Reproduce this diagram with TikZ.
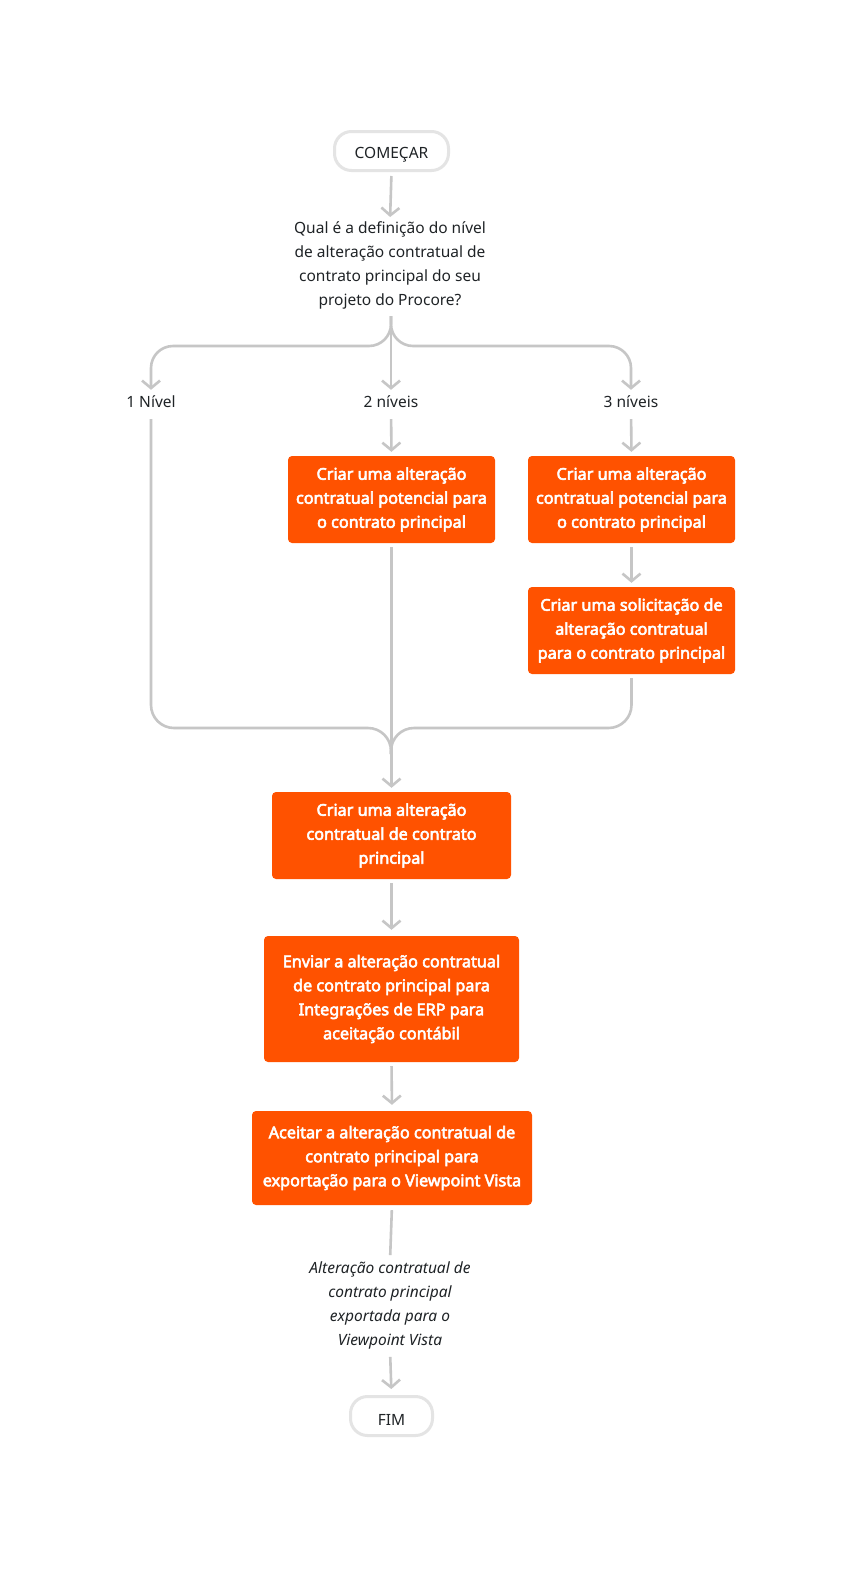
\documentclass[tikz,border=0pt]{standalone}
\usepackage{fontspec}
\setmainfont{Noto Sans}[AutoFakeBold=3.4]
\usetikzlibrary{arrows.meta,calc}
\definecolor{procore}{HTML}{FF5200}
\definecolor{linegray}{HTML}{C6C6C6}
\definecolor{pillgray}{HTML}{E4E4E4}
\definecolor{ink}{HTML}{1F2326}
\tikzset{
  base/.style={font=\fontsize{15.5}{24}\selectfont, text=ink, inner sep=0pt, align=center},
  lift/.style={execute at begin node={\rule{0pt}{18pt}}},
  pill/.style={base, lift, draw=pillgray, line width=3pt, fill=white, rounded corners=17pt},
  proc/.style={base, fill=procore, text=white, font=\fontsize{16.2}{24}\selectfont\bfseries, rounded corners=4pt,
    execute at begin node={\rule{0pt}{26pt}}},
  lbl/.style={base},
  conn/.style={draw=linegray, line width=2.6pt},
  arr/.style={conn, -{Straight Barb[length=7.5pt,width=18pt,line width=2.6pt]}},
}
\begin{document}
\begin{tikzpicture}[x=1pt,y=-1pt]
\fill[white] (0,0) rectangle (864,1569);
\useasboundingbox (0,0) rectangle (864,1569);

\node[pill, minimum width=114pt, minimum height=39pt] (start) at (391.5,151) {COMEÇAR};
\node[lbl] (q) at (390,265) {Qual é a definição do nível\\de alteração contratual de\\contrato principal do seu\\projeto do Procore?};

\node[lbl] (l1) at (151,402) {1 Nível};
\node[lbl] (l2) at (391,402) {2 níveis};
\node[lbl] (l3) at (631,402) {3 níveis};

\node[proc, minimum width=207pt, minimum height=87pt] (b2) at (391.5,499.5) {Criar uma alteração\\contratual potencial para\\o contrato principal};
\node[proc, minimum width=207pt, minimum height=87pt] (b3a) at (631.5,499.5) {Criar uma alteração\\contratual potencial para\\o contrato principal};
\node[proc, minimum width=207pt, minimum height=87pt] (b3b) at (631.5,630.5) {Criar uma solicitação de\\alteração contratual\\para o contrato principal};
\node[proc, minimum width=239pt, minimum height=87pt] (bc) at (391.5,835.5) {Criar uma alteração\\contratual de contrato\\principal};
\node[proc, minimum width=255pt, minimum height=126pt] (bd) at (391.5,999) {Enviar a alteração contratual\\de contrato principal para\\Integrações de ERP para\\aceitação contábil};
\node[proc, minimum width=280pt, minimum height=94pt] (be) at (392,1158) {Aceitar a alteração contratual de\\contrato principal para\\exportação para o Viewpoint Vista};

\node[lbl, font=\fontsize{15.5}{24}\selectfont\itshape] (ex) at (390,1305) {Alteração contratual de\\contrato principal\\exportada para o\\Viewpoint Vista};

\node[pill, minimum width=82pt, minimum height=39pt] (fim) at (391.5,1416) {FIM};

\coordinate (split) at (391,316);
\coordinate (merge) at (391,728);

% connectors
\draw[arr, shorten <=4pt, shorten >=4pt] (start.south) -- (q.north);
\draw[arr, rounded corners=22pt, shorten >=6pt] (split) -- ++(0,30) -| (l1.north);
\draw[arr, shorten >=6pt] (split) -- (l2.north);
\draw[arr, rounded corners=22pt, shorten >=6pt] (split) -- ++(0,30) -| (l3.north);

\draw[arr, shorten <=11pt, shorten >=4pt] (l2.south) -- (b2.north);
\draw[arr, shorten <=11pt, shorten >=4pt] (l3.south) -- (b3a.north);
\draw[arr, shorten <=4pt, shorten >=4pt] (b3a.south) -- (b3b.north);

\draw[conn, rounded corners=23pt, shorten <=11pt] (l1.south) -- (l1.south |- merge) -- (merge) -- ++(0,26);
\draw[conn, rounded corners=23pt, shorten <=4pt] (b3b.south) -- (b3b.south |- merge) -- (merge) -- ++(0,26);
\draw[arr, shorten <=4pt, shorten >=4pt] (b2.south) -- (bc.north);

\draw[arr, shorten <=4pt, shorten >=6pt] (bc.south) -- (bd.north);
\draw[arr, shorten <=4pt, shorten >=6pt] (bd.south) -- (be.north);
\draw[conn, shorten <=5pt, shorten >=6pt] (be.south) -- (ex.north);
\draw[arr, shorten <=8pt, shorten >=6pt] (ex.south) -- (fim.north);
\end{tikzpicture}
\end{document}
